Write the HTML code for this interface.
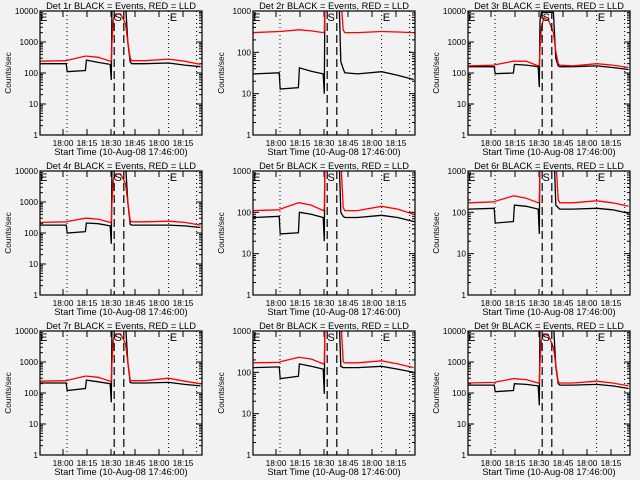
<!DOCTYPE html>
<html><head><meta charset="utf-8"><style>
body{margin:0;background:#f2f2f2;}
svg{display:block;}
text{font-family:"Liberation Sans",sans-serif;fill:#000;}
</style></head><body>
<svg id="chart" width="640" height="480" viewBox="0 0 640 480"></svg>
<script>
const times=[0,16,16.6,28,28.6,36,43.5,44.2,44.6,45.5,47,50,53,54.5,56,57,65,80,90,100];
const tickLabels=["18:00","18:15","18:30","18:45","18:00","18:15"];
const tickMinutes=[14,29,44,59,74,89];
const dottedMinutes=[16.5,80,97.5];
const dashedMinutes=[46,52];
const markerLetters=["E","S","E"];
const markerMinutes=[2,48.5,83];
const detNames=["Det 1r","Det 2r","Det 3r","Det 4r","Det 5r","Det 6r","Det 7r","Det 8r","Det 9r"];
const yMaxDecades=[4,3,4,4,3,3,4,3,4];
const red1=[240,250,255,350,350,320,240,250,1000,5000,8000,8000,4000,1000,300,250,250,280,240,190];
const black1=[200,200,110,120,260,220,190,60,20000,20000,20000,20000,20000,1000,230,200,200,210,180,160];
const red2=[300,320,320,350,350,330,300,310,2000,8000,8000,8000,6000,2000,350,300,300,320,310,300];
const black2=[30,32,13,14,42,35,30,10,5000,8000,8000,8000,8000,60,40,32,30,34,28,22];
const red3=[170,180,185,240,240,240,170,180,600,3000,6000,5000,2000,500,200,180,170,200,180,150];
const black3=[160,160,95,100,190,180,160,35,5000,9000,9000,9000,9000,300,170,160,160,170,150,130];
const red4=[220,230,235,300,300,280,220,230,1000,5000,8000,8000,4000,1000,250,230,230,240,220,180];
const black4=[180,180,100,110,210,200,170,45,20000,20000,20000,20000,20000,1000,190,180,180,180,170,150];
const red5=[110,115,120,170,170,150,110,120,2000,8000,8000,8000,6000,2000,130,110,110,140,120,90];
const black5=[75,80,30,32,100,90,75,20,5000,8000,8000,8000,8000,100,80,75,75,85,75,60];
const red6=[170,180,185,250,250,220,170,180,2000,8000,8000,8000,6000,2000,200,170,170,190,170,140];
const black6=[120,125,55,60,150,140,120,30,5000,8000,8000,8000,8000,150,130,120,120,125,115,95];
const red7=[240,250,255,350,350,320,240,250,1000,5000,8000,8000,4000,1000,260,250,250,300,240,200];
const black7=[210,210,120,140,260,230,200,50,20000,20000,20000,20000,20000,1000,220,210,210,220,190,170];
const red8=[170,175,180,230,230,210,160,170,2000,8000,8000,8000,6000,2000,180,170,170,190,160,130];
const black8=[130,135,70,80,160,140,120,30,5000,8000,8000,8000,8000,140,130,130,130,140,120,100];
const red9=[210,220,225,290,290,270,210,220,1000,5000,8000,7000,3000,800,230,210,210,240,210,170];
const black9=[180,180,110,120,200,190,170,40,20000,20000,20000,20000,20000,700,200,180,180,190,170,140];
const reds=[red1,red2,red3,red4,red5,red6,red7,red8,red9];
const blacks=[black1,black2,black3,black4,black5,black6,black7,black8,black9];

const NS="http://www.w3.org/2000/svg";
const svg=document.getElementById('chart');
function mk(tag,attrs,parent,name){const e=document.createElementNS(NS,tag);for(const k in attrs)e.setAttribute(k,attrs[k]);


(parent||svg).appendChild(e);return e;}
const colLeft=[40,253,468], boxW=162, boxH=124;
for(let p=0;p<9;p++){
  const c=p%3,r=Math.floor(p/3);
  const L=colLeft[c],T=11+r*160,B=T+boxH,R=L+boxW;
  const dec=yMaxDecades[p];
  const g=mk('g',{},svg,'panel-'+(p+1));
  const xs=m=>L+0.6+m*1.6;
  const ys=v=>B-Math.log10(Math.max(v,1e-3))*boxH/dec;
  const cid='clip'+p;
  const cp=mk('clipPath',{id:cid},g,'clip');
  mk('rect',{x:L,y:T,width:boxW,height:boxH},cp,'clip-rect');
  const t=mk('text',{x:L+boxW/2,y:T-2,'text-anchor':'middle','font-size':'9.3'},g,'panel-title');
  t.textContent=detNames[p]+" BLACK = Events, RED = LLD";
  for(let d=0;d<=dec;d++){
    const y=ys(Math.pow(10,d));
    mk('line',{x1:L,x2:L+6,y1:y,y2:y,stroke:'#000'},g,'y-major-tick');
    mk('line',{x1:R,x2:R-6,y1:y,y2:y,stroke:'#000'},g,'y-major-tick-right');
    const lt=mk('text',{x:L-2,y:y+3,'text-anchor':'end','font-size':'8.3'},g,'y-tick-label');
    lt.textContent=String(Math.pow(10,d));
    if(d<dec)for(let k=2;k<10;k++){const yy=ys(k*Math.pow(10,d));
      mk('line',{x1:L,x2:L+3,y1:yy,y2:yy,stroke:'#000'},g,'y-minor-tick');
      mk('line',{x1:R,x2:R-3,y1:yy,y2:yy,stroke:'#000'},g,'y-minor-tick-right');}
  }
  const yl=mk('text',{x:0,y:0,'text-anchor':'middle','font-size':'8.3',transform:`translate(${L-29},${T+boxH/2}) rotate(-90)`},g,'y-axis-title');
  yl.textContent="Counts/sec";
  tickMinutes.forEach((m,i)=>{const x=xs(m);
    mk('line',{x1:x,x2:x,y1:B,y2:B-6,stroke:'#000'},g,'x-tick');
    mk('line',{x1:x,x2:x,y1:T,y2:T+6,stroke:'#000'},g,'x-tick-top');
    const tl=mk('text',{x:x,y:B+11,'text-anchor':'middle','font-size':'8.3'},g,'x-tick-label');tl.textContent=tickLabels[i];});
  const xt=mk('text',{x:L+boxW/2,y:B+20,'text-anchor':'middle','font-size':'9.3'},g,'x-axis-title');
  xt.textContent="Start Time (10-Aug-08 17:46:00)";
  dottedMinutes.forEach(m=>mk('line',{x1:xs(m),x2:xs(m),y1:T,y2:B,stroke:'#000','stroke-dasharray':'1,3'},g,'dotted-marker'));
  const lg=mk('g',{'clip-path':`url(#${cid})`},g,'series-group');
  const pts=a=>a.map((v,i)=>xs(times[i]).toFixed(1)+','+ys(v).toFixed(1)).join(' ');
  mk('polyline',{points:pts(blacks[p]),fill:'none',stroke:'#000','stroke-width':1.3},lg,'events-line');
  mk('polyline',{points:pts(reds[p]),fill:'none',stroke:'#ff0000','stroke-width':1.3},lg,'lld-line');
  dashedMinutes.forEach(m=>mk('line',{x1:xs(m),x2:xs(m),y1:T,y2:B,stroke:'#000','stroke-dasharray':'8,4','stroke-width':1.2},g,'dashed-marker'));
  markerLetters.forEach((s,i)=>{const mt=mk('text',{x:xs(markerMinutes[i]),y:T+10,'text-anchor':'middle','font-size':'11'},g,'marker-letter');mt.textContent=s;});
  mk('rect',{x:L,y:T,width:boxW,height:boxH,fill:'none',stroke:'#000','stroke-width':1.2},g,'plot-box');
}
</script>
</body></html>
